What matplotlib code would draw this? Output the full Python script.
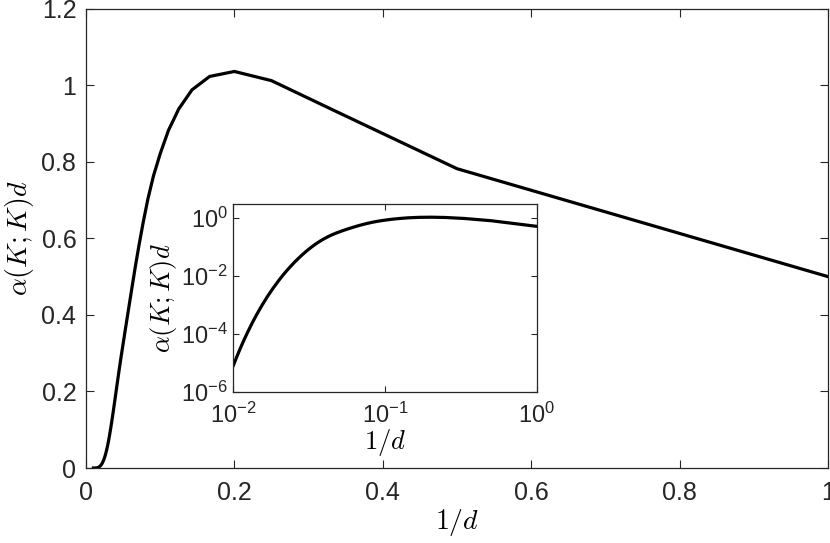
import matplotlib
matplotlib.use("Agg")
import matplotlib.pyplot as plt
from matplotlib.ticker import FixedLocator, FuncFormatter, NullLocator
import numpy as np

# ---- data ----
d_values = list(range(1, 41)) + [42, 44, 46, 48, 50, 55, 60, 65, 70, 75, 80,
                                  85, 90, 95, 100]
alpha_d = [0.500, 0.782, 0.935, 1.012, 1.036, 1.023, 0.988, 0.938, 0.882, 0.821,
           0.763, 0.702, 0.640, 0.582, 0.528, 0.478, 0.433, 0.393, 0.357, 0.324,
           0.2945, 0.2665, 0.240, 0.2153, 0.1922, 0.171, 0.1516, 0.134, 0.1182,
           0.104, 0.0913, 0.080, 0.0701, 0.0613, 0.0536, 0.0468, 0.0409, 0.0357,
           0.0312, 0.0272,
           0.02075, 0.01583, 0.01207, 0.00921, 0.00702, 0.00356, 0.00181,
           9.2e-4, 4.66e-4, 2.37e-4, 1.20e-4, 6.1e-5, 3.1e-5, 1.57e-5, 8.0e-6]

main_xticks = [0, 0.2, 0.4, 0.6, 0.8, 1]
main_yticks = [0, 0.2, 0.4, 0.6, 0.8, 1, 1.2]
inset_xticks = [1e-2, 1e-1, 1e0]
inset_yticks = [1e-6, 1e-4, 1e-2, 1e0]

inv_d = [1.0 / d for d in d_values]

plt.rcParams['mathtext.fontset'] = 'custom'
plt.rcParams['mathtext.rm'] = 'Liberation Sans'
plt.rcParams['mathtext.it'] = 'Liberation Sans:italic'
plt.rcParams['mathtext.sf'] = 'Liberation Sans'
plt.rcParams['font.family'] = ['Liberation Sans', 'DejaVu Sans']

AX_COLOR = '#262626'

fig = plt.figure(figsize=(8.30, 5.43), dpi=100)

def style(ax, ticklen, fs, pad):
    for s in ax.spines.values():
        s.set_color(AX_COLOR)
        s.set_linewidth(0.9)
    ax.tick_params(direction='in', length=ticklen, width=0.8, color=AX_COLOR,
                   labelcolor=AX_COLOR, labelsize=fs, pad=pad,
                   top=True, right=True, which='major')

# main axes
ax = fig.add_axes([0.1036, 0.1381, 0.894, 0.8459])
ax.plot(inv_d, alpha_d, color='black', linewidth=2.3)
ax.set_xlim(0, 1)
ax.set_ylim(0, 1.2)
ax.xaxis.set_major_locator(FixedLocator(main_xticks))
ax.yaxis.set_major_locator(FixedLocator(main_yticks))
fmt = FuncFormatter(lambda v, p: '%g' % v)
ax.xaxis.set_major_formatter(fmt)
ax.yaxis.set_major_formatter(fmt)
style(ax, 6, 18, 7)
ax.tick_params(axis='x', pad=9)
ax.set_xlabel(r'$1/d$', fontsize=20, math_fontfamily='cm', labelpad=2)
ax.set_ylabel(r'$\alpha(K;K)d$', fontsize=20, math_fontfamily='cm', labelpad=4)

# inset axes
ins = fig.add_axes([0.2811, 0.2786, 0.3659, 0.3457])
ins.loglog(inv_d, alpha_d, color='black', linewidth=2.3)
ins.set_xlim(1e-2, 1e0)
ins.set_ylim(1e-6, 10 ** 0.47)
ins.xaxis.set_major_locator(FixedLocator(inset_xticks))
ins.yaxis.set_major_locator(FixedLocator(inset_yticks))
ins.xaxis.set_minor_locator(NullLocator())
ins.yaxis.set_minor_locator(NullLocator())
lfmt = FuncFormatter(lambda v, p: r'$\mathregular{10^{%d}}$' % int(round(np.log10(v))))
ins.xaxis.set_major_formatter(lfmt)
ins.yaxis.set_major_formatter(lfmt)
style(ins, 4, 17, 4)
ins.tick_params(axis='x', pad=8)
ins.set_xlabel(r'$1/d$', fontsize=19, math_fontfamily='cm', labelpad=-1)
ins.set_ylabel(r'$\alpha(K;K)d$', fontsize=19, math_fontfamily='cm', labelpad=1)

fig.savefig('out.png', dpi=100)
